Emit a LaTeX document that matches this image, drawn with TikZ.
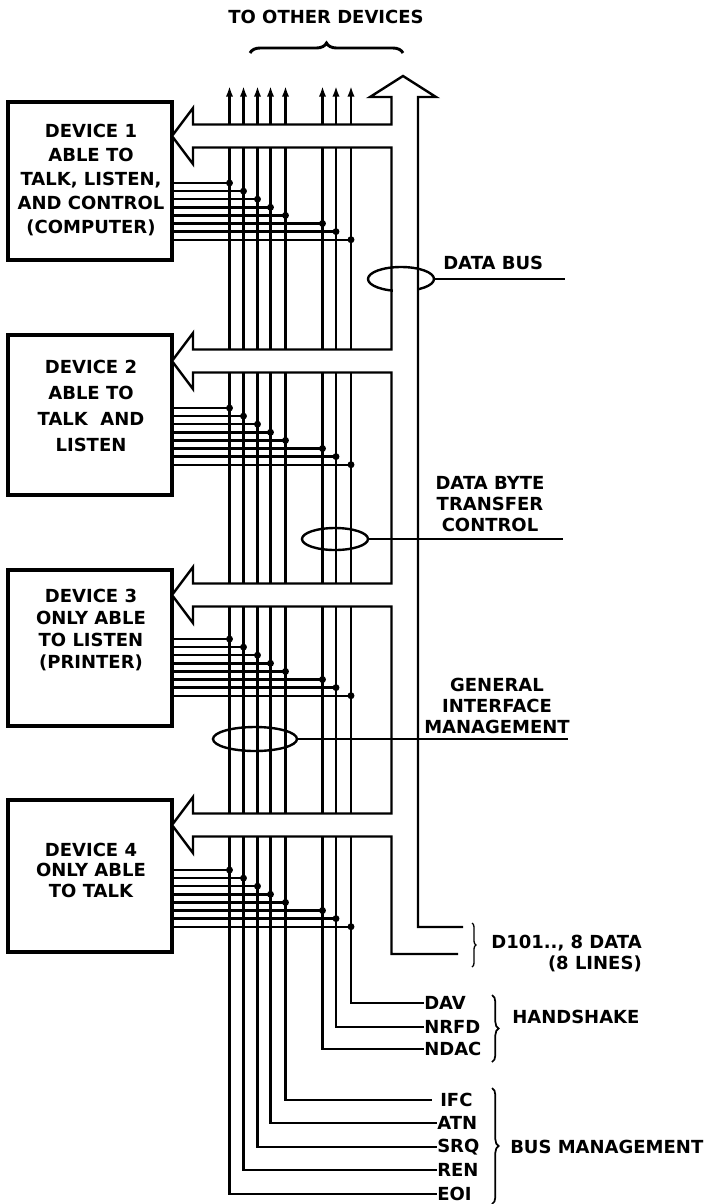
\documentclass[tikz,border=0pt]{standalone}
\usepackage{fontspec}
\setmainfont{DejaVu Sans}
\usetikzlibrary{decorations.pathreplacing,arrows.meta,shapes.geometric}
\begin{document}
\begin{tikzpicture}[x=0.75pt,y=-0.75pt,
  wire/.style={line width=1.8pt},
  devbox/.style={draw,line width=2.8pt,minimum width=123pt,inner sep=0pt},
  devtxt/.style={font=\fontsize{13.5}{18}\selectfont\bfseries,align=center,inner sep=0pt},
  lbl/.style={font=\fontsize{13.5}{15.75}\selectfont\bfseries,inner sep=0pt},
  tie/.style={draw,ellipse,line width=1.8pt,inner sep=0pt},
  brc/.style={decorate,line width=1.3pt},
  tip/.style={{Latex[length=8pt,width=5.5pt]}-}
]
\fill[white] (0,0) rectangle (712,1204);
\useasboundingbox (0,0) rectangle (712,1204);

% device boxes
\node[devbox,minimum height=118.5pt] (d1) at (90,181) {};
\node[devbox,minimum height=120pt] (d2) at (90,415) {};
\node[devbox,minimum height=117pt] (d3) at (90,648) {};
\node[devbox,minimum height=114pt] (d4) at (90,876) {};
\node[devtxt] (d1t) at (91,180) {DEVICE 1\\ABLE TO\\TALK, LISTEN,\\AND CONTROL\\(COMPUTER)};
\node[devtxt,font=\fontsize{13.5}{19.5}\selectfont\bfseries] (d2t) at (91,406) {DEVICE 2\\ABLE TO\\TALK\ \ AND\\LISTEN};
\node[devtxt,font=\fontsize{13.5}{16.3}\selectfont\bfseries] (d3t) at (91,630) {DEVICE 3\\ONLY ABLE\\TO LISTEN\\(PRINTER)};
\node[devtxt,font=\fontsize{13.5}{15.4}\selectfont\bfseries] (d4t) at (91,870) {DEVICE 4\\ONLY ABLE\\TO TALK};

% line labels at the bottom
\node[lbl,anchor=west] (eoi) at (437,1194) {EOI};
\node[lbl,anchor=west] (ren) at (437,1170) {REN};
\node[lbl,anchor=west] (srq) at (437,1147) {SRQ};
\node[lbl,anchor=west] (atn) at (437,1123) {ATN};
\node[lbl,anchor=west] (ifc) at (440,1100) {IFC};
\node[lbl,anchor=west] (ndac) at (424,1049) {NDAC};
\node[lbl,anchor=west] (nrfd) at (424,1027) {NRFD};
\node[lbl,anchor=west] (dav) at (424,1003) {DAV};

% control lines
\coordinate (w1) at (229.5,86);
\coordinate (w2) at (243.5,86);
\coordinate (w3) at (257.5,86);
\coordinate (w4) at (270.5,86);
\coordinate (w5) at (285.5,86);
\coordinate (w6) at (322.5,86);
\coordinate (w7) at (336,86);
\coordinate (w8) at (351,86);
\draw[wire,tip] (w1) |- (eoi.west);
\draw[wire,tip] (w2) |- (ren.west);
\draw[wire,tip] (w3) |- (srq.west);
\draw[wire,tip] (w4) |- (atn.west);
\draw[wire,tip] (w5) |- ([xshift=-6pt]ifc.west);
\draw[wire,tip] (w6) |- (ndac.west);
\draw[wire,tip] (w7) |- (nrfd.west);
\draw[wire,tip] (w8) |- (dav.west);

% cable ties
\node[tie,minimum width=49.5pt,minimum height=16.5pt] (dbtc) at (335,539) {};
\node[tie,minimum width=63pt,minimum height=18pt] (gim) at (255,739) {};

% white bodies of the device arrows
\foreach \c in {136,361,595,825}{
  \fill[white] (172,\c) -- (193,\c-28) -- (193,\c-11.5) -- (391.5,\c-11.5)
     -- (391.5,\c+11.5) -- (193,\c+11.5) -- (193,\c+28) -- cycle;
}

% data bus tie (lower arc passes behind the bus)
\node[tie,minimum width=49.5pt,minimum height=18pt] (dbe) at (401,279) {};
\fill[white] (393,280) rectangle (416.5,294);

% data bus outline
\draw[wire,line join=miter] (463,927) -- (418,927) -- (418,97) -- (436,97) -- (403,76) -- (370,97) -- (391.5,97)
 -- (391.5,124.5) -- (193,124.5) -- (193,108) -- (172,136) -- (193,164) -- (193,147.5) -- (391.5,147.5)
 -- (391.5,349.5) -- (193,349.5) -- (193,333) -- (172,361) -- (193,389) -- (193,372.5) -- (391.5,372.5)
 -- (391.5,583.5) -- (193,583.5) -- (193,567) -- (172,595) -- (193,623) -- (193,606.5) -- (391.5,606.5)
 -- (391.5,813.5) -- (193,813.5) -- (193,797) -- (172,825) -- (193,853) -- (193,836.5) -- (391.5,836.5)
 -- (391.5,954) -- (458,954);

% device connections to the control lines
\foreach \yy in {183,408,639,870}{
  \foreach \xx [count=\k from 0] in {229.5,243.5,257.5,270.5,285.5,322.5,336,351}{
    \draw[wire] (172,\yy+\k*8.1) -- (\xx,\yy+\k*8.1);
    \fill (\xx,\yy+\k*8.1) circle[radius=2.6pt];
  }
}

% group labels
\coordinate (dbend) at (565,279);
\coordinate (dbtcend) at (563,539);
\coordinate (gimend) at (568,739);
\draw[wire] (dbe.east) -- (dbend);
\draw[wire] (dbtc.east) -- (dbtcend);
\draw[wire] (gim.east) -- (gimend);
\node[lbl,anchor=west] (dbl) at (443,263) {DATA BUS};
\node[lbl,align=center] (dbtcl) at (490,504) {DATA BYTE\\TRANSFER\\CONTROL};
\node[lbl,align=center] (giml) at (497,706) {GENERAL\\INTERFACE\\MANAGEMENT};
\node[lbl,align=right,anchor=east] (d101) at (642,953) {D101.., 8 DATA\\(8 LINES)};
\node[lbl,anchor=west] (hs) at (512,1017) {HANDSHAKE};
\node[lbl,anchor=west] (bm) at (510,1147) {BUS MANAGEMENT};
\node[lbl] (tod) at (326,17) {TO OTHER DEVICES};

% braces
\draw[brc,line width=2.2pt,decoration={brace,amplitude=7.5pt}] (250,53) -- (403,53);
\draw[brc,line width=1pt,decoration={brace,amplitude=3pt}] (472,923) -- (472,967);
\draw[brc,decoration={brace,amplitude=5pt}] (492,995) -- (492,1062);
\draw[brc,decoration={brace,amplitude=5pt}] (492,1088) -- (492,1204);
\end{tikzpicture}
\end{document}
